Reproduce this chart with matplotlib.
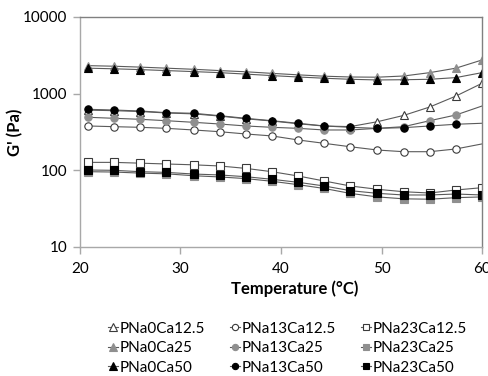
import matplotlib

matplotlib.use("Agg")

import matplotlib.pyplot as plt
from matplotlib.ticker import FixedLocator, NullLocator

plt.rcParams["font.family"] = ["Lato", "DejaVu Sans"]

# temperature (deg C) of each measured point
temps = [20.8, 23.4, 26.0, 28.6, 31.3, 33.9, 36.5, 39.1, 41.7, 44.3,
         46.9, 49.6, 52.2, 54.8, 57.4, 60.0]

# storage modulus G' (Pa)
pna0ca12_5 = [610, 600, 585, 560, 545, 510, 470, 440, 405, 378, 372, 431, 520, 670, 930, 1365]
pna0ca25 = [2320, 2280, 2220, 2150, 2080, 2000, 1930, 1840, 1760, 1690, 1650, 1640, 1700, 1880, 2150, 2750]
pna0ca50 = [2150, 2110, 2060, 2000, 1940, 1880, 1800, 1720, 1650, 1590, 1540, 1510, 1520, 1540, 1620, 1880]
pna13ca12_5 = [379, 371, 364, 353, 336, 319, 298, 281, 249, 225, 203, 184, 175, 175, 190, 221]
pna13ca25 = [492, 477, 463, 444, 423, 402, 379, 364, 353, 336, 336, 353, 371, 444, 527, 690]
pna13ca50 = [625, 612, 594, 565, 555, 516, 477, 444, 411, 379, 364, 353, 360, 379, 399, 411]
pna23ca12_5 = [127, 127, 124, 121, 118, 114, 106, 96, 84.4, 72.6, 62.5, 56.6, 52.6, 50.6, 55.4, 59.4]
pna23ca25 = [96, 95, 92, 90, 85, 82, 78, 72, 65, 58, 50, 45, 42.5, 42, 44, 45]
pna23ca50 = [101, 100, 96, 94, 89.5, 87, 82.6, 76.4, 69.8, 62.5, 54.3, 50.1, 47.7, 47.7, 49.1, 47.7]

labels = ["PNa0Ca12.5", "PNa0Ca25", "PNa0Ca50",
          "PNa13Ca12.5", "PNa13Ca25", "PNa13Ca50",
          "PNa23Ca12.5", "PNa23Ca25", "PNa23Ca50"]
series = [pna0ca12_5, pna0ca25, pna0ca50,
          pna13ca12_5, pna13ca25, pna13ca50,
          pna23ca12_5, pna23ca25, pna23ca50]

GREY = "#8f8f8f"
EDGE = "#3a3a3a"
LINE = "#5a5a5a"
styles = [
    ("^", "white", EDGE, 6.3),
    ("^", GREY, GREY, 6.3),
    ("^", "black", "black", 6.3),
    ("o", "white", EDGE, 5.3),
    ("o", GREY, GREY, 5.3),
    ("o", "black", "black", 5.3),
    ("s", "white", EDGE, 5.2),
    ("s", GREY, GREY, 5.2),
    ("s", "black", "black", 5.2),
]

fig = plt.figure(figsize=(4.89, 3.76), dpi=100)
ax = fig.add_axes((80 / 489, 1 - 247 / 376, 402 / 489, 230 / 376))

for label, vals, (mk, fc, ec, ms) in zip(labels, series, styles):
    # circle series have no marker drawn on the last point
    every = list(range(len(temps) - 1)) if mk == "o" else None
    ax.plot(temps, vals, color=LINE, lw=0.8, marker=mk, ms=ms,
            mfc=fc, mec=ec, mew=0.8, markevery=every, label=label)

ax.set_yscale("log")
ax.set_ylim(10, 10000)
ax.set_xlim(20, 60)
ax.yaxis.set_major_locator(FixedLocator([10, 100, 1000, 10000]))
ax.yaxis.set_minor_locator(NullLocator())
ax.set_yticklabels(["10", "100", "1000", "10000"])
ax.set_xticks([20, 30, 40, 50, 60])

for side in ("left", "bottom"):
    ax.spines[side].set_color("#a8a8a8")
for side in ("top", "right"):
    ax.spines[side].set_color("#808080")
for sp in ax.spines.values():
    sp.set_linewidth(1.0)

ax.tick_params(axis="both", direction="out", length=5, width=1.0,
               color="#a8a8a8", labelsize=11, pad=4)
ax.tick_params(axis="x", pad=6)

ax.set_xlabel("Temperature (°C)", fontsize=12, fontweight="bold")
ax.xaxis.set_label_coords(0.535, -0.145)
ax.set_ylabel("G' (Pa)", fontsize=12, fontweight="bold")
ax.yaxis.set_label_coords(-0.14, 0.5)

fig.legend(loc="upper left", bbox_to_anchor=(100 / 489, 1 - 314 / 376),
           ncol=3, frameon=False, fontsize=11, handlelength=0.7,
           handletextpad=0.1, columnspacing=1.6, labelspacing=0.36,
           markerscale=0.85, borderpad=0)

fig.savefig("out.png", dpi=100)
